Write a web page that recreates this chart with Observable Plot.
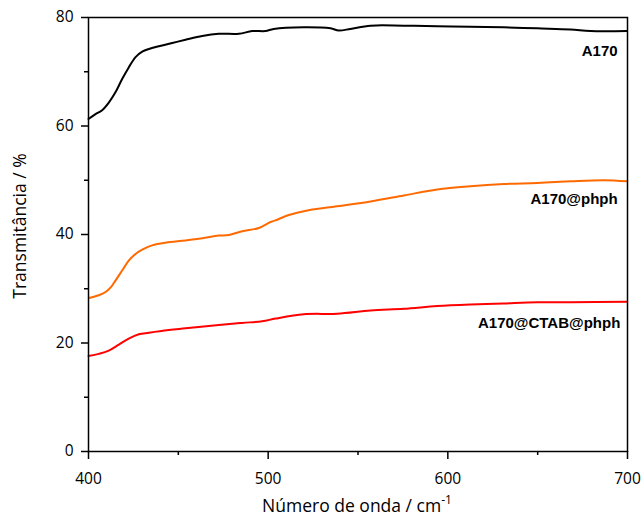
<!DOCTYPE html>
<html>
<head>
<meta charset="utf-8">
<script src="https://cdn.jsdelivr.net/npm/d3@7"></script>
<script src="https://cdn.jsdelivr.net/npm/@observablehq/plot@0.6"></script>
<style>
  html, body { margin: 0; padding: 0; background: #fff; }
  #chart svg { display: block; }
</style>
</head>
<body>
<div id="chart"></div>
<script>
// Series: A170 (black)
const a170X = [400, 403.9, 407.6, 411.3, 415, 418.8, 422.4, 426.2, 429.9, 433.6, 439.1, 446.6, 454, 463.3, 472.5, 483.7, 491.1, 498.5, 503.1, 519.8, 534.7, 539.3, 545.8, 557, 575.5, 594, 612.6, 631, 649.7, 668.3, 679.4, 699.8];
const a170Y = [61.3, 62.2, 62.9, 64.3, 66.2, 68.7, 70.8, 72.7, 73.7, 74.2, 74.7, 75.3, 75.9, 76.6, 77.0, 77.0, 77.5, 77.5, 77.9, 78.2, 78.0, 77.6, 77.9, 78.5, 78.5, 78.4, 78.3, 78.2, 78.0, 77.8, 77.5, 77.5];
// Series: A170@phph (orange)
const phphX = [400.2, 405.7, 409.5, 412.5, 415, 418.8, 422.4, 426.2, 429.9, 435.4, 442.9, 454, 463.3, 472.5, 478.1, 485.5, 494.8, 501.3, 504.1, 510.6, 519.8, 538.4, 557, 575.5, 594.1, 612.6, 631.1, 649.7, 668.3, 686.8, 699.8];
const phphY = [28.3, 28.8, 29.4, 30.3, 31.5, 33.4, 35.2, 36.4, 37.2, 38.0, 38.5, 38.9, 39.3, 39.8, 39.9, 40.6, 41.2, 42.3, 42.6, 43.5, 44.3, 45.2, 46.1, 47.2, 48.3, 48.9, 49.3, 49.5, 49.8, 50.0, 49.8];
// Series: A170@CTAB@phph (red)
const ctabX = [400, 405.7, 411.3, 416.9, 422.4, 428, 433.6, 444.7, 454, 472.5, 485.5, 496.7, 504.1, 519.8, 538.4, 557, 575.5, 594, 612.6, 631, 649.7, 668.3, 699.8];
const ctabY = [17.6, 18.0, 18.6, 19.7, 20.8, 21.6, 21.9, 22.4, 22.7, 23.3, 23.7, 24.0, 24.5, 25.3, 25.4, 26.0, 26.3, 26.8, 27.1, 27.3, 27.5, 27.5, 27.6];

const seriesNames = ["A170", "A170@phph", "A170@CTAB@phph"];
const seriesColors = ["#000000", "#ff6a00", "#ff0000"];
const labelX = [694.5, 694.5, 696];
const labelY = [73.7, 46.6, 23.6];

const xMajor = [400, 500, 600, 700];
const xMinor = [450, 550, 650];
const yMajor = [0, 20, 40, 60, 80];
const yMinor = [10, 30, 50, 70];

const xs = [a170X, phphX, ctabX];
const ys = [a170Y, phphY, ctabY];
const data = [];
seriesNames.forEach((name, i) => {
  xs[i].forEach((x, j) => data.push({series: name, x, y: ys[i][j]}));
});
const labels = seriesNames.map((name, i) => ({name, x: labelX[i], y: labelY[i]}));

const font = "'Open Sans', sans-serif";

const plot = Plot.plot({
  width: 642,
  height: 517,
  marginLeft: 88,
  marginRight: 15,
  marginTop: 17,
  marginBottom: 66,
  style: {fontFamily: font, fontSize: "15px", color: "#000", background: "#fff"},
  x: {domain: [400, 700], label: null},
  y: {domain: [0, 80], label: null},
  color: {domain: seriesNames, range: seriesColors},
  marks: [
    Plot.axisX({ticks: xMajor, tickSize: 8, tickPadding: 13, strokeWidth: 1.5, fontSize: 15.5, tickFormat: d => String(d)}),
    Plot.axisX({ticks: xMinor, tickSize: 4, strokeWidth: 1.5, tickFormat: () => ""}),
    Plot.axisY({ticks: yMajor, tickSize: 7, tickPadding: 8, strokeWidth: 1.5, fontSize: 15.5, tickFormat: d => String(d)}),
    Plot.axisY({ticks: yMinor, tickSize: 4, strokeWidth: 1.5, tickFormat: () => ""}),
    Plot.line(data, {x: "x", y: "y", z: "series", stroke: "series", strokeWidth: 2, curve: "catmull-rom"}),
    Plot.frame({stroke: "#000", strokeWidth: 1.5}),
    Plot.text(labels, {x: "x", y: "y", text: "name", textAnchor: "end", fontWeight: "bold", fontSize: 15, fontFamily: "'Liberation Sans', Arial, sans-serif", fill: "#000", letterSpacing: "-0.3px"})
  ]
});

const svg = d3.select(plot);
svg.append("text")
  .attr("x", 357)
  .attr("y", 512)
  .attr("text-anchor", "middle")
  .attr("font-family", font)
  .attr("font-size", 17.5)
  .attr("fill", "#000")
  .call(t => {
    t.append("tspan").text("Número de onda / cm");
    t.append("tspan").attr("dy", -8).attr("font-size", 12).text("-1");
  });
svg.append("text")
  .attr("transform", "translate(26,226) rotate(-90)")
  .attr("text-anchor", "middle")
  .attr("font-family", font)
  .attr("font-size", 17.5)
  .attr("fill", "#000")
  .text("Transmitância / %");

document.getElementById("chart").appendChild(plot);
</script>
</body>
</html>
